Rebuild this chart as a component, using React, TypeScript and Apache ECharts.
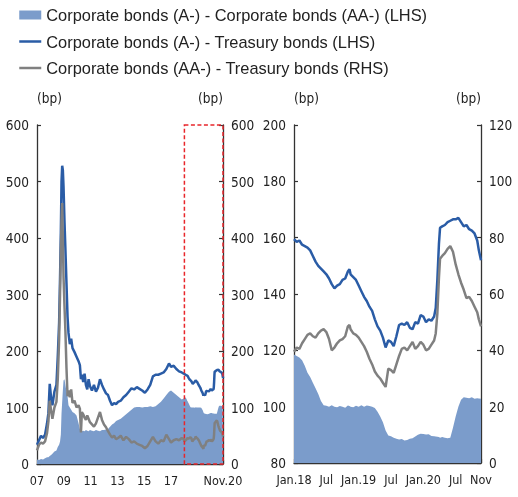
import React, { useEffect, useRef } from "react";
import * as echarts from "echarts";

// ---------- Long history panel (fractional years) ----------
const HIST_YEARS = [
  2007.0, 2007.15, 2007.3, 2007.45, 2007.6, 2007.75, 2007.85, 2007.95, 2008.05, 2008.15,
  2008.3, 2008.45, 2008.55, 2008.65, 2008.72, 2008.78, 2008.83, 2008.88, 2008.93, 2008.98,
  2009.05, 2009.12, 2009.2, 2009.28, 2009.35, 2009.45, 2009.55, 2009.65, 2009.8, 2009.95,
  2010.1, 2010.2, 2010.28, 2010.35, 2010.45, 2010.55, 2010.65, 2010.75, 2010.85, 2010.95,
  2011.1, 2011.25, 2011.4, 2011.55, 2011.7, 2011.85, 2012.0, 2012.15, 2012.3, 2012.45,
  2012.6, 2012.75, 2012.9, 2013.05, 2013.25, 2013.45, 2013.65, 2013.85, 2014.05, 2014.25,
  2014.45, 2014.65, 2014.85, 2015.05, 2015.25, 2015.45, 2015.65, 2015.85, 2016.05, 2016.25,
  2016.45, 2016.65, 2016.85, 2017.0, 2017.2, 2017.4, 2017.6, 2017.8, 2017.95,
];
const HIST_A_MINUS_T = [
  34, 42, 50, 46, 52, 72, 90, 142, 118, 104,
  128, 140, 190, 250, 330, 410, 500, 528, 520, 490,
  430, 380, 320, 260, 232, 212, 222, 205, 198, 190,
  182, 175, 150, 158, 145, 160, 140, 132, 150, 138,
  130, 140, 128, 135, 150, 140, 132, 125, 122, 112,
  104, 108, 106, 110, 112, 118, 122, 128, 134, 132,
  136, 133, 130, 126, 132, 140, 155, 158, 158, 160,
  162, 168, 178, 172, 174, 168, 164, 162, 160,
];
const HIST_AA_MINUS_T = [
  24, 34, 38, 36, 40, 55, 75, 112, 95, 80,
  100, 110, 150, 220, 300, 380, 430, 462, 400, 330,
  280, 235, 170, 120, 130, 118, 132, 108, 112, 100,
  104, 98, 56, 92, 88, 82, 78, 86, 80, 74,
  70, 66, 72, 82, 92, 78, 70, 65, 58, 52,
  47, 50, 44, 46, 50, 42, 48, 44, 38, 40,
  36, 34, 32, 28, 32, 40, 48, 40, 36, 42,
  40, 52, 44, 38, 42, 44, 42, 46, 44,
];
const HIST_A_MINUS_AA = [
  8, 7, 9, 8, 10, 12, 12, 14, 16, 18,
  22, 24, 30, 34, 40, 52, 90, 110, 130, 148,
  150, 140, 128, 120, 104, 100, 96, 92, 90, 86,
  72, 62, 60, 58, 59, 58, 60, 59, 58, 60,
  59, 58, 60, 59, 58, 60, 60, 61, 62, 66,
  70, 72, 76, 78, 80, 84, 88, 92, 96, 100,
  101, 101, 100, 101, 101, 102, 101, 102, 106, 110,
  116, 122, 128, 130, 126, 122, 118, 114, 116,
];

// ---------- Recent panel (months since Jan 2018) ----------
const RECENT_MONTHS = [
  0, 0.5, 1, 1.5, 2, 2.5, 3, 3.5, 4, 4.5,
  5, 5.5, 6, 6.5, 7, 7.5, 8, 8.5, 9, 9.5,
  10, 10.3, 10.5, 11, 11.5, 12, 12.5, 13, 13.5, 14,
  14.5, 15, 15.5, 16, 16.5, 17, 17.5, 18, 18.5, 19,
  19.5, 20, 20.5, 21, 21.5, 22, 22.5, 23, 23.5, 24,
  24.5, 25, 25.5, 26, 26.3, 26.6, 26.9, 27.1, 27.5, 28,
  28.5, 29, 29.5, 30, 30.5, 31, 31.5, 32, 32.5, 33,
  33.5, 34, 34.3, 34.7,
];
const RECENT_A_MINUS_T = [
  159.5, 158.5, 159, 157.5, 157, 156.5, 155.5, 153.5, 151.5, 150,
  149, 148, 147, 145.5, 143.5, 142, 143, 143.5, 145, 145.5,
  148, 148.8, 147, 146, 145, 143, 141, 139, 137.5, 135.5,
  134, 131, 128.5, 127, 124.5, 121, 123.5, 123, 121.5, 125,
  129, 129.5, 129, 130, 128, 127.5, 130, 129.5, 132.5, 132,
  130, 131, 130.5, 132, 135, 145, 158, 163.5, 164, 164.5,
  165.5, 166, 166.5, 166.5, 167, 165.5, 164, 164.5, 163, 162.5,
  161.5, 159, 155.5, 152,
];
const RECENT_AA_MINUS_T = [
  39.5, 41, 40.5, 42.5, 44, 45.5, 46, 45, 44.5, 46,
  47, 47.5, 46.5, 44, 40, 41, 42.5, 43.5, 44, 45,
  48.5, 49, 47.5, 46, 45.5, 44.5, 43, 41.5, 39.5, 37,
  35, 32.5, 31, 30, 28.5, 27, 33.5, 33, 32, 35,
  38, 40.5, 41, 40, 41.5, 43, 40.5, 41.5, 43, 42,
  40, 40.5, 42, 43.5, 46, 53, 66, 72.5, 73.5, 74.5,
  76, 77, 75, 70.5, 67, 64, 61.5, 58.5, 59, 57.5,
  55.5, 53.5, 51, 48.5,
];
const RECENT_A_MINUS_AA = [
  118.5, 118, 117.5, 116.5, 114.5, 112, 110.5, 108.5, 106.5, 104.5,
  102, 100.5, 100.3, 100, 100.5, 100, 99.8, 100.2, 100, 99.6,
  100.4, 100.2, 100, 99.8, 100.3, 100, 100.5, 100, 100.4, 100.2,
  100, 99.5, 98.2, 96.5, 94.5, 91.5, 89.8, 89.5, 89, 88.6,
  88.3, 88.5, 88, 88.2, 88.6, 88.8, 89.4, 90, 90.4, 90.3,
  90.1, 90.2, 89.6, 89.5, 89.4, 89.3, 89.2, 89, 89.2, 89,
  88.8, 89, 92.5, 96.5, 100, 102.5, 103.3, 103.2, 103, 103.3,
  102.8, 103, 102.9, 102.8,
];

// ---------- Axes / labels ----------
const LONG_BASE_YEAR = 2007;
const LONG_END = 13.88; // years since Jan 2007 (Nov 2020)
const SHORT_END = 34.7; // months since Jan 2018 (Nov 2020)
const HIGHLIGHT_START = 11; // Jan 2018 in years since 2007
const LONG_TICK_LABELS = ["07", "09", "11", "13", "15", "17", "19", "Nov.20"];
const SHORT_TICK_LABELS = ["Jan.18", "Jul", "Jan.19", "Jul", "Jan.20", "Jul", "Nov"];

const NAME_SPREAD = "Corporate bonds (A-) - Corporate bonds (AA-) (LHS)";
const NAME_A = "Corporate bonds (A-) - Treasury bonds (LHS)";
const NAME_AA = "Corporate bonds (AA-) - Treasury bonds (RHS)";

const AREA_COLOR = "#7b9ccb";
const BLUE = "#2a5ca6";
const GRAY = "#808080";
const RED = "#e8262b";
const AXIS_COLOR = "#333";
const NARROW = "'DejaVu Sans Condensed', 'Liberation Sans Narrow', 'Liberation Sans', sans-serif";
const SANS = "'Liberation Sans', Arial, Helvetica, sans-serif";

const pair = (xs: number[], ys: number[], f: (x: number) => number) => xs.map((x, i) => [f(x), ys[i]]);

export default function App() {
  const ref = useRef<HTMLDivElement>(null);
  useEffect(() => {
    if (!ref.current) return;
    const chart = echarts.init(ref.current, undefined, { renderer: "svg" });

    const histX = (y: number) => y - LONG_BASE_YEAR;
    const recentToLong = (m: number) => HIGHLIGHT_START + m / 12;
    const longSpread = [...pair(HIST_YEARS, HIST_A_MINUS_AA, histX), ...pair(RECENT_MONTHS, RECENT_A_MINUS_AA, recentToLong)];
    const longA = [...pair(HIST_YEARS, HIST_A_MINUS_T, histX), ...pair(RECENT_MONTHS, RECENT_A_MINUS_T, recentToLong)];
    const longAA = [...pair(HIST_YEARS, HIST_AA_MINUS_T, histX), ...pair(RECENT_MONTHS, RECENT_AA_MINUS_T, recentToLong)];
    const id = (x: number) => x;
    const shortSpread = pair(RECENT_MONTHS, RECENT_A_MINUS_AA, id);
    const shortA = pair(RECENT_MONTHS, RECENT_A_MINUS_T, id);
    const shortAA = pair(RECENT_MONTHS, RECENT_AA_MINUS_T, id);

    const axisLine = { show: true, lineStyle: { color: AXIS_COLOR, width: 1.3 } };
    const axisTick = { show: true, inside: true, length: 4, lineStyle: { color: AXIS_COLOR, width: 1.2 } };
    const yLabelStyle = { color: "#222", fontSize: 13.5, fontFamily: NARROW };
    const xLabelStyle = { color: "#222", fontSize: 12.5, fontFamily: NARROW };
    const nameStyle = (align: string) => ({ color: "#222", fontSize: 13.5, fontFamily: NARROW, align });

    const yAxis = (gridIndex: number, position: "left" | "right", min: number, max: number, interval: number, align: string) => ({
      type: "value",
      gridIndex,
      position,
      min,
      max,
      interval,
      name: "(bp)",
      nameLocation: "end",
      nameGap: 20,
      nameTextStyle: nameStyle(align),
      axisLine,
      axisTick,
      splitLine: { show: false },
      axisLabel: { ...yLabelStyle, margin: 8 },
    });

    const lineSeries = (name: string, xi: number, yi: number, data: number[][], color: string, extra: any = {}) => ({
      name,
      type: "line",
      xAxisIndex: xi,
      yAxisIndex: yi,
      data,
      symbol: "none",
      showSymbol: false,
      color,
      lineStyle: { color, width: 2.5 },
      ...extra,
    });
    const areaSeries = (xi: number, yi: number, data: number[][]) => ({
      name: NAME_SPREAD,
      type: "line",
      xAxisIndex: xi,
      yAxisIndex: yi,
      data,
      symbol: "none",
      showSymbol: false,
      color: AREA_COLOR,
      itemStyle: { color: AREA_COLOR },
      lineStyle: { width: 0, color: AREA_COLOR },
      areaStyle: { color: AREA_COLOR, opacity: 1 },
    });

    chart.setOption({
      animation: false,
      legend: {
        orient: "vertical",
        left: 13,
        top: 2,
        itemWidth: 22,
        itemHeight: 9,
        itemGap: 10.5,
        textStyle: { fontSize: 16.4, fontFamily: SANS, color: "#222", lineHeight: 16 },
        data: [
          { name: NAME_SPREAD, icon: "rect" },
          { name: NAME_A, itemStyle: { opacity: 0 }, lineStyle: { width: 2.5 } },
          { name: NAME_AA, itemStyle: { opacity: 0 }, lineStyle: { width: 2.5 } },
        ],
      },
      grid: [
        { left: 37, top: 125, width: 186, height: 339 },
        { left: 294, top: 125, width: 187, height: 338 },
      ],
      xAxis: [
        {
          type: "value",
          gridIndex: 0,
          min: 0,
          max: LONG_END,
          interval: 2,
          axisLine,
          axisTick,
          splitLine: { show: false },
          axisLabel: {
            ...xLabelStyle,
            margin: 10,
            showMinLabel: true,
            showMaxLabel: true,
            formatter: (_v: number, i: number) => LONG_TICK_LABELS[i] ?? "",
          },
        },
        {
          type: "value",
          gridIndex: 1,
          min: 0,
          max: SHORT_END,
          interval: 6,
          axisLine,
          axisTick,
          splitLine: { show: false },
          axisLabel: {
            ...xLabelStyle,
            margin: 10,
            showMinLabel: true,
            showMaxLabel: true,
            formatter: (_v: number, i: number) => SHORT_TICK_LABELS[i] ?? "",
          },
        },
      ],
      yAxis: [
        yAxis(0, "left", 0, 600, 100, "left"),
        yAxis(0, "right", 0, 600, 100, "right"),
        yAxis(1, "left", 80, 200, 20, "left"),
        yAxis(1, "right", 0, 120, 20, "right"),
      ],
      series: [
        areaSeries(0, 0, longSpread),
        lineSeries(NAME_A, 0, 0, longA, BLUE),
        lineSeries(NAME_AA, 0, 1, longAA, GRAY, {
          markArea: {
            silent: true,
            z: 10,
            itemStyle: { color: "rgba(0,0,0,0)", borderColor: RED, borderWidth: 1.5, borderType: [4, 2.5] },
            data: [[{ coord: [HIGHLIGHT_START, 600] }, { coord: [LONG_END, 0] }]],
          },
        }),
        areaSeries(1, 2, shortSpread),
        lineSeries(NAME_A, 1, 2, shortA, BLUE),
        lineSeries(NAME_AA, 1, 3, shortAA, GRAY),
      ],
    });
    return () => chart.dispose();
  }, []);
  return <div ref={ref} style={{ position: "fixed", left: 0, top: 0, width: 518, height: 497 }} />;
}
